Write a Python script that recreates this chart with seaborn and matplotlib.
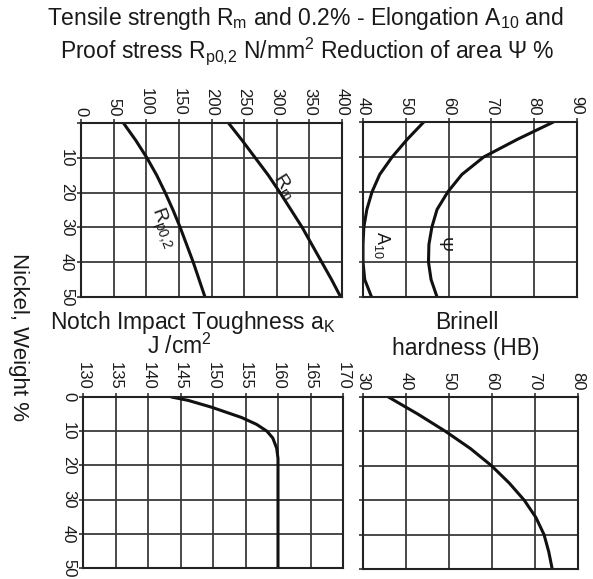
import matplotlib
matplotlib.use("Agg")
import matplotlib.pyplot as plt
import seaborn as sns
import pandas as pd

sns.set_theme(style="white")
plt.rcParams["font.family"] = ["Liberation Sans", "DejaVu Sans"]
plt.rcParams["mathtext.fontset"] = "custom"
plt.rcParams["mathtext.rm"] = "Liberation Sans"
plt.rcParams["mathtext.it"] = "Liberation Sans"

# Nickel content (weight %) along the vertical axis of every panel
nickel = [0, 5, 10, 15, 20, 25, 30, 35, 40, 45, 50]

# Tensile strength and proof stress, N/mm^2
rm = [226, 247, 267, 287, 305, 322, 339, 354, 369, 384, 398]
rp02 = [65, 84, 101, 116, 129, 141, 152, 162, 172, 181, 190]

# Elongation and reduction of area, %
a10 = [54.2, 50.3, 46.8, 43.9, 42.1, 40.9, 40.2, 40.0, 40.0, 40.4, 42.0]
psi = [84.5, 76.0, 68.2, 63.1, 59.8, 57.3, 56.1, 55.4, 55.3, 55.9, 57.3]

# Notch impact toughness, J/cm^2
nickel_ak = [0, 1, 3, 6, 8, 10, 12, 15, 18, 20, 30, 40, 50]
ak = [143.6, 146.2, 149.8, 154.4, 156.7, 158.3, 159.2, 159.8, 160, 160, 160, 160, 160]

# Brinell hardness
hb = [35.9, 42.8, 49.2, 55.0, 59.9, 64.0, 67.5, 70.2, 72.1, 73.2, 74.0]

W, H = 593, 579
fig = plt.figure(figsize=(W / 100, H / 100), dpi=100)
INK = "#1a1a1a"


def panel(left, top, right, bottom):
    return fig.add_axes([left / W, 1 - bottom / H, (right - left) / W, (bottom - top) / H])


def style(ax, xlim, xticks, show_y, yticks):
    ax.set_xlim(*xlim)
    ax.set_ylim(50, 0)
    ax.set_xticks(xticks)
    ax.set_yticks([0, 10, 20, 30, 40, 50])
    ax.xaxis.tick_top()
    ax.grid(True, color="#3a3a3a", linewidth=1.3)
    for s in ax.spines.values():
        s.set_color("#222222")
        s.set_linewidth(1.5)
    ax.tick_params(axis="x", which="both", top=True, bottom=False, labeltop=True,
                   labelbottom=False, length=3, width=1.2, color="#333333",
                   labelsize=12, labelcolor=INK, pad=2)
    ax.tick_params(axis="y", left=True, length=3, width=1.2, color="#333333",
                   labelsize=12, labelcolor=INK, pad=2)
    for lab in ax.get_xticklabels():
        lab.set_rotation(-90)
        lab.set_va("bottom")
        lab.set_ha("center")
    if show_y:
        ax.set_yticklabels([str(v) if v in yticks else "" for v in [0, 10, 20, 30, 40, 50]],
                           rotation=-90, va="center")
    else:
        ax.set_yticklabels([])
    ax.set_xlabel("")
    ax.set_ylabel("")


def curve(ax, x, y):
    df = pd.DataFrame({"x": x, "y": y})
    sns.lineplot(data=df, x="x", y="y", sort=False, estimator=None, ax=ax,
                 color="#111111", linewidth=2.2)


# Tensile strength / proof stress
ax1 = panel(81, 123, 342, 297)
curve(ax1, rp02, nickel)
curve(ax1, rm, nickel)
style(ax1, (0, 400), list(range(0, 401, 50)), True, [10, 20, 30, 40, 50])
ax1.text(312, 18, r"R$_{\rm m}$", rotation=-58, fontsize=14, ha="center", va="center", color=INK)
ax1.text(125, 30, r"R$_{\rm p0{,}2}$", rotation=-70, fontsize=14, ha="center", va="center", color=INK)

# Elongation / reduction of area
ax2 = panel(363, 122, 577, 297)
curve(ax2, a10, nickel)
curve(ax2, psi, nickel)
style(ax2, (40, 90), list(range(40, 91, 10)), False, [])
ax2.text(44.5, 35, r"A$_{10}$", rotation=-90, fontsize=13, ha="center", va="center", color=INK)
ax2.text(58.5, 35, "Ψ", rotation=-90, fontsize=13, ha="center", va="center", color=INK)

# Notch impact toughness
ax3 = panel(83, 397, 343, 568)
curve(ax3, ak, nickel_ak)
style(ax3, (130, 170), list(range(130, 171, 5)), True, [0, 10, 20, 30, 40, 50])

# Brinell hardness
ax4 = panel(363, 397, 578, 569)
curve(ax4, hb, nickel)
style(ax4, (30, 80), list(range(30, 81, 10)), False, [])

# Headings
fs = 16.5
fig.text(305 / W, 1 - 19 / H, r"Tensile strength R$_{\rm m}$ and 0.2% - Elongation A$_{10}$ and",
         ha="center", va="center", fontsize=fs, color=INK)
fig.text(307 / W, 1 - 51 / H, r"Proof stress R$_{\rm p0{,}2}$ N/mm$^2$ Reduction of area Ψ %",
         ha="center", va="center", fontsize=fs, color=INK)
fig.text(193 / W, 1 - 322 / H, r"Notch Impact Toughness a$_{\rm K}$",
         ha="center", va="center", fontsize=fs, color=INK)
fig.text(179 / W, 1 - 346 / H, r"J /cm$^2$",
         ha="center", va="center", fontsize=fs, color=INK)
fig.text(467 / W, 1 - 322 / H, "Brinell",
         ha="center", va="center", fontsize=fs, color=INK)
fig.text(466 / W, 1 - 349 / H, "hardness (HB)",
         ha="center", va="center", fontsize=fs, color=INK)
fig.text(18 / W, 1 - 337 / H, "Nickel, Weight %", rotation=-90,
         ha="center", va="center", fontsize=16, color=INK)

fig.savefig("out.png", dpi=100)
